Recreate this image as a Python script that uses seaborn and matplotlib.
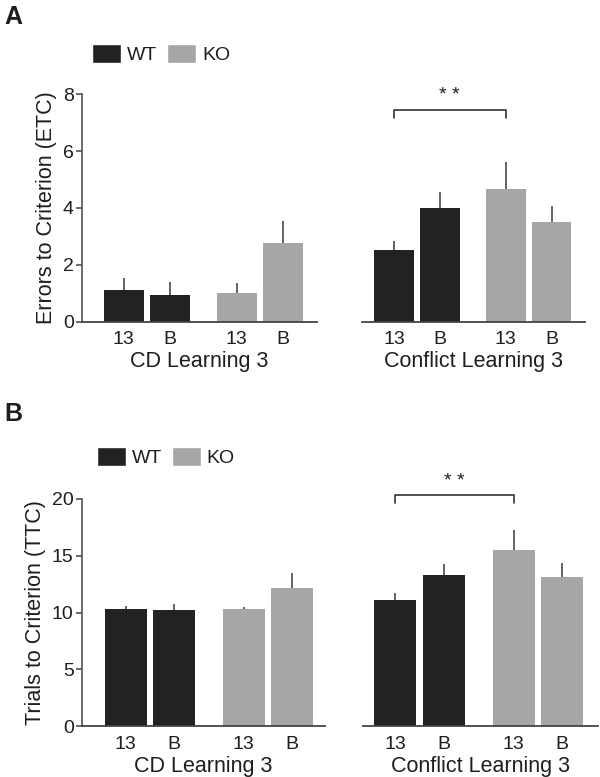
import numpy as np
import pandas as pd
import matplotlib
matplotlib.use("Agg")
import matplotlib.pyplot as plt
import seaborn as sns
from matplotlib.patches import Patch

# data (mean and upward SEM)
conditions = ["13", "B", "13", "B"]
genotypes = ["WT", "WT", "KO", "KO"]

etc_cd_mean = [1.12, 0.92, 1.00, 2.78]
etc_cd_sem = [0.41, 0.47, 0.37, 0.77]
etc_conf_mean = [2.52, 4.01, 4.65, 3.51]
etc_conf_sem = [0.33, 0.54, 0.95, 0.55]

ttc_cd_mean = [10.28, 10.22, 10.28, 12.13]
ttc_cd_sem = [0.29, 0.50, 0.22, 1.37]
ttc_conf_mean = [11.07, 13.28, 15.48, 13.16]
ttc_conf_sem = [0.62, 0.97, 1.76, 1.24]

colors = {"WT": "#222222", "KO": "#a6a6a6"}
text_col = "#1e1e1e"
pos = [0, 1, 2.44, 3.44]

sns.set_style("ticks")
plt.rcParams["font.family"] = ["Liberation Sans", "DejaVu Sans"]
plt.rcParams["text.color"] = text_col
plt.rcParams["axes.labelcolor"] = text_col
plt.rcParams["xtick.color"] = text_col
plt.rcParams["ytick.color"] = text_col

fig = plt.figure(figsize=(6, 7.77), dpi=100)


def draw(rect, mean, sem, xlim, ylim, yticks, xlabel, ylabel=None, star=None):
    ax = fig.add_axes(rect)
    df = pd.DataFrame({"pos": pos, "value": mean, "genotype": genotypes})
    sns.barplot(data=df, x="pos", y="value", hue="genotype", palette=colors,
                native_scale=True, width=0.87, dodge=False, linewidth=0,
                legend=False, ax=ax)
    ax.errorbar(pos, mean, yerr=[np.zeros(len(sem)), sem], fmt="none",
                ecolor="#3a3a3a", elinewidth=1.1, capsize=0)
    ax.set_xlim(*xlim)
    ax.set_ylim(*ylim)
    ax.set_xticks(pos)
    ax.set_xticklabels(conditions, fontsize=14)
    ax.tick_params(axis="x", length=0, pad=7)
    ax.set_xlabel(xlabel, fontsize=15.5, labelpad=2)
    for s in ["top", "right"]:
        ax.spines[s].set_visible(False)
    ax.spines["bottom"].set_color("#444444")
    ax.spines["bottom"].set_linewidth(1.3)
    if ylabel:
        ax.set_yticks(yticks)
        ax.tick_params(axis="y", length=4, width=1.1, labelsize=14, pad=2,
                       color="#444444")
        ax.spines["left"].set_color("#444444")
        ax.spines["left"].set_linewidth(1.1)
        ax.set_ylabel(ylabel, fontsize=15.5, labelpad=4)
    else:
        ax.spines["left"].set_visible(False)
        ax.set_yticks([])
        ax.set_ylabel("")
    if star:
        y, drop, ys = star
        ax.plot([pos[0], pos[0], pos[2], pos[2]], [y - drop, y, y, y - drop],
                color="#333333", lw=1.2, clip_on=False)
        ax.text((pos[0] + pos[2]) / 2, ys, "* *", ha="center", va="center",
                fontsize=14, clip_on=False)
    return ax


# panel A
draw([0.137, 0.5862, 0.3907, 0.2924], etc_cd_mean, etc_cd_sem, (-0.9, 4.17),
     (0, 8), [0, 2, 4, 6, 8], "CD Learning 3", "Errors to Criterion (ETC)")
draw([0.6033, 0.5862, 0.3717, 0.2924], etc_conf_mean, etc_conf_sem,
     (-0.696, 4.17), (0, 8), None, "Conflict Learning 3",
     star=(7.45, 0.27, 7.95))

# panel B
draw([0.1367, 0.0656, 0.405, 0.2922], ttc_cd_mean, ttc_cd_sem, (-0.907, 4.12),
     (0, 20), [0, 5, 10, 15, 20], "CD Learning 3", "Trials to Criterion (TTC)")
draw([0.6055, 0.0656, 0.3917, 0.2922], ttc_conf_mean, ttc_conf_sem,
     (-0.653, 4.18), (0, 20), None, "Conflict Learning 3",
     star=(20.33, 0.68, 21.5))

handles = [Patch(facecolor=colors["WT"], label="WT"),
           Patch(facecolor=colors["KO"], label="KO")]
for anchor in [(0.1538, 0.9305), (0.161, 0.412)]:
    fig.legend(handles=handles, loc="center left", bbox_to_anchor=anchor,
               ncol=2, frameon=False, fontsize=14, borderpad=0,
               borderaxespad=0, handlelength=1.5, handleheight=1.15,
               handletextpad=0.3, columnspacing=0.5)

fig.text(0.008, 0.994, "A", fontsize=18, fontweight="bold", va="top", ha="left")
fig.text(0.008, 0.483, "B", fontsize=18, fontweight="bold", va="top", ha="left")

fig.savefig("out.png", dpi=100)
